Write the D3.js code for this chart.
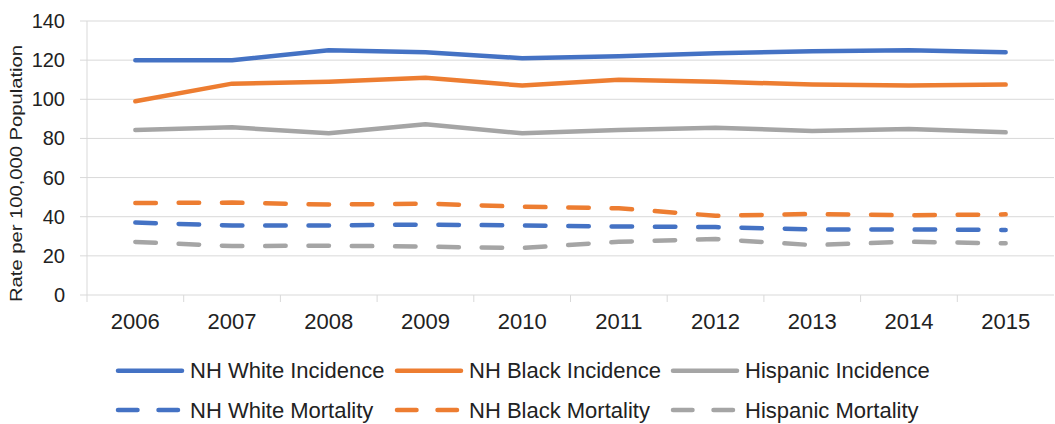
<!DOCTYPE html>
<html>
<head>
<meta charset="utf-8">
<script src="https://cdn.jsdelivr.net/npm/d3@7.9.0/dist/d3.min.js"></script>
<style>
  body { margin: 0; background: #fff; }
  text { font-family: "Liberation Sans", Arial, sans-serif; fill: #222; }
</style>
</head>
<body>
<div id="chart"></div>
<script>
// data
const years = ['2006', '2007', '2008', '2009', '2010', '2011', '2012', '2013', '2014', '2015'];
const whiteIncidence = [120, 120, 125, 124, 121, 122, 123.5, 124.5, 125, 124];
const blackIncidence = [99, 108, 109, 111, 107, 110, 109, 107.5, 107, 107.5];
const hispanicIncidence = [84.3, 85.7, 82.6, 87.2, 82.6, 84.3, 85.5, 83.8, 84.8, 83.1];
const whiteMortality = [37, 35.5, 35.5, 36, 35.5, 35, 34.7, 33.5, 33.5, 33.2];
const blackMortality = [47, 47.2, 46.2, 46.7, 45.1, 44.3, 40.5, 41.4, 40.7, 41.2];
const hispanicMortality = [27.1, 25, 25.2, 24.7, 24, 27.2, 28.6, 25.5, 27.2, 26.4];
const yTicks = [0, 20, 40, 60, 80, 100, 120, 140];

const series = [
  { name: 'NH White Incidence', values: whiteIncidence, color: '#4472C4', dashed: false },
  { name: 'NH Black Incidence', values: blackIncidence, color: '#ED7D31', dashed: false },
  { name: 'Hispanic Incidence', values: hispanicIncidence, color: '#A5A5A5', dashed: false },
  { name: 'NH White Mortality', values: whiteMortality, color: '#4472C4', dashed: true },
  { name: 'NH Black Mortality', values: blackMortality, color: '#ED7D31', dashed: true },
  { name: 'Hispanic Mortality', values: hispanicMortality, color: '#A5A5A5', dashed: true },
];

const width = 1055;
const height = 424;
const plot = { left: 87, right: 1054, top: 21, bottom: 295 };
const dash = '20.5 22.8';

const svg = d3.select('#chart')
  .append('svg')
  .attr('width', width)
  .attr('height', height);

const x = d3.scaleBand()
  .domain(years)
  .range([plot.left, plot.right]);

const y = d3.scaleLinear()
  .domain([0, 140])
  .range([plot.bottom, plot.top]);

// gridlines + y tick marks
svg.append('g')
  .selectAll('line')
  .data(yTicks)
  .join('line')
  .attr('x1', plot.left - 7)
  .attr('x2', plot.right)
  .attr('y1', d => y(d))
  .attr('y2', d => y(d))
  .attr('stroke', '#d9d9d9')
  .attr('stroke-width', 1);

// y axis line
svg.append('line')
  .attr('x1', plot.left).attr('x2', plot.left)
  .attr('y1', plot.top).attr('y2', plot.bottom + 7)
  .attr('stroke', '#d9d9d9');

// x tick marks at band edges
svg.append('g')
  .selectAll('line')
  .data(years.slice(1))
  .join('line')
  .attr('x1', d => x(d))
  .attr('x2', d => x(d))
  .attr('y1', plot.bottom)
  .attr('y2', plot.bottom + 7)
  .attr('stroke', '#d9d9d9');

// y labels
svg.append('g')
  .selectAll('text')
  .data(yTicks)
  .join('text')
  .attr('x', 65)
  .attr('y', d => y(d))
  .attr('dy', '0.35em')
  .attr('text-anchor', 'end')
  .style('font-size', '20px')
  .text(d => d);

// x labels
svg.append('g')
  .selectAll('text')
  .data(years)
  .join('text')
  .attr('x', d => x(d) + x.bandwidth() / 2)
  .attr('y', 329)
  .attr('text-anchor', 'middle')
  .style('font-size', '22px')
  .text(d => d);

// y title
svg.append('text')
  .attr('transform', 'translate(22,173.5) rotate(-90)')
  .attr('text-anchor', 'middle')
  .attr('textLength', 257)
  .attr('lengthAdjust', 'spacingAndGlyphs')
  .style('font-size', '16px')
  .text('Rate per 100,000 Population');

// lines
const line = d3.line()
  .x((d, i) => x(years[i]) + x.bandwidth() / 2)
  .y(d => y(d));

svg.append('g')
  .selectAll('path')
  .data(series)
  .join('path')
  .attr('d', d => line(d.values))
  .attr('fill', 'none')
  .attr('stroke', d => d.color)
  .attr('stroke-width', 4.5)
  .attr('stroke-linecap', 'round')
  .attr('stroke-linejoin', 'round')
  .attr('stroke-dasharray', d => d.dashed ? dash : null);

// legend: 3 columns x 2 rows
const legend = svg.append('g');
const cols = [118, 397, 673];
const rows = [370.7, 410];

series.forEach((s, i) => {
  const cx = cols[i % 3];
  const cy = rows[Math.floor(i / 3)];
  legend.append('line')
    .attr('x1', cx).attr('x2', cx + 64)
    .attr('y1', cy).attr('y2', cy)
    .attr('stroke', s.color)
    .attr('stroke-width', 4.5)
    .attr('stroke-linecap', 'round')
    .attr('stroke-dasharray', s.dashed ? '19.5 21' : null);
  legend.append('text')
    .attr('x', cx + 72)
    .attr('y', cy + 7.5)
    .style('font-size', '22px')
    .text(s.name);
});
</script>
</body>
</html>
